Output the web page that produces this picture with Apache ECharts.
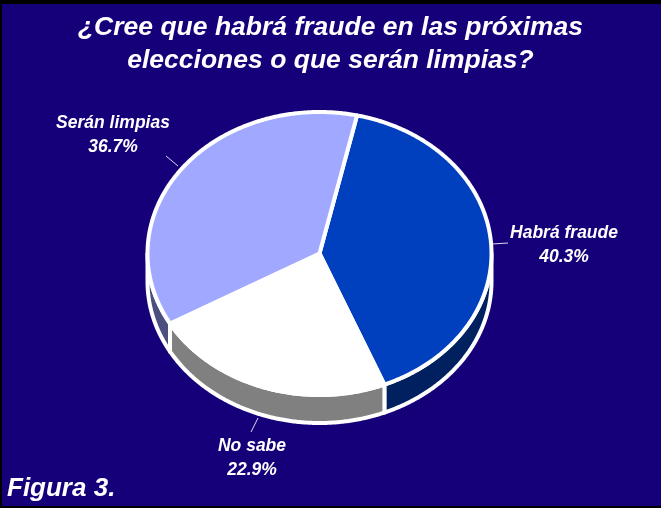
<!DOCTYPE html>
<html><head><meta charset="utf-8">
<style>
html,body{margin:0;padding:0;background:#000;width:661px;height:508px;overflow:hidden}
#frame{position:absolute;left:2px;top:4px;width:659px;height:502px;background:#16007a}
#c{position:absolute;left:0;top:0;width:661px;height:508px}
</style>
<script src="https://cdn.jsdelivr.net/npm/echarts@6/dist/echarts.min.js"></script>
</head><body><div id="frame"></div><div id="c"></div>
<script>
const categories = ['Habrá fraude', 'No sabe', 'Serán limpias'];
const values = [40.3, 22.9, 36.7];
const topColors = ['#0040bf', '#ffffff', '#a0a8ff'];
const sideColors = ['#002060', '#808080', '#4c5080'];
const titleLines = ['¿Cree que habrá fraude en las próximas', 'elecciones o que serán limpias?'];
const footnote = 'Figura 3.';

const FONT = '"Liberation Sans", Arial, sans-serif';
const PIE = {cx: 319.5, cy: 253.5, rx: 172, ry: 141.5, depth: 28, start: 12.6};
const LABELS = [
  {x: 564, y: 245, line: [492, 244, 508, 243]},
  {x: 252, y: 458, line: [258, 418, 251, 432]},
  {x: 113, y: 135, line: [166, 156, 178, 166]}
];
const total = values.reduce((a, b) => a + b, 0);
function pt(deg, dy) {
  const r = deg * Math.PI / 180;
  return [PIE.cx + PIE.rx * Math.sin(r), PIE.cy - PIE.ry * Math.cos(r) + (dy || 0)];
}
function arc(a0, a1, dy) {
  const pts = [], n = Math.max(2, Math.ceil(Math.abs(a1 - a0) / 0.5));
  for (let i = 0; i <= n; i++) pts.push(pt(a0 + (a1 - a0) * i / n, dy));
  return pts;
}
function renderSlice(params, api) {
  const i = params.dataIndex;
  let before = 0;
  for (let k = 0; k < i; k++) before += values[k];
  const a0 = PIE.start + before / total * 360;
  const a1 = a0 + api.value(0) / total * 360;
  const children = [];
  const s0 = Math.max(a0, 90), s1 = Math.min(a1, 270);
  if (s1 > s0) {
    children.push({
      type: 'polygon', z2: 1,
      shape: {points: arc(s0, s1, 0).concat(arc(s1, s0, PIE.depth))},
      style: {fill: sideColors[i], stroke: '#fff', lineWidth: 4, lineJoin: 'round'}
    });
  }
  children.push({
    type: 'polygon', z2: 2,
    shape: {points: [[PIE.cx, PIE.cy]].concat(arc(a0, a1, 0))},
    style: {fill: topColors[i], stroke: '#fff', lineWidth: 4, lineJoin: 'round'}
  });
  const L = LABELS[i];
  children.push({
    type: 'line', z2: 3,
    shape: {x1: L.line[0], y1: L.line[1], x2: L.line[2], y2: L.line[3]},
    style: {stroke: '#fff', lineWidth: 1, opacity: 0.85}
  });
  children.push({
    type: 'text', z2: 4, x: L.x, y: L.y,
    style: {
      text: categories[i] + '\n' + api.value(0).toFixed(1) + '%',
      fill: '#fff', align: 'center', verticalAlign: 'middle',
      font: 'italic bold 17.5px ' + FONT, lineHeight: 24
    }
  });
  return {type: 'group', children};
}
const chart = echarts.init(document.getElementById('c'), null, {renderer: 'canvas'});
chart.setOption({
  animation: false,
  backgroundColor: 'transparent',
  title: [
    {text: titleLines.join('\n'), left: 'center', top: 11, padding: 0,
     textStyle: {color: '#fff', fontFamily: FONT, fontStyle: 'italic', fontWeight: 'bold', fontSize: 26.5, lineHeight: 33}},
    {text: footnote, left: 7, top: 476, padding: 0,
     textStyle: {color: '#fff', fontFamily: FONT, fontStyle: 'italic', fontWeight: 'bold', fontSize: 26}}
  ],
  series: [{
    type: 'custom', coordinateSystem: 'none', silent: true,
    data: values.map(v => [v]),
    renderItem: renderSlice
  }]
});
</script></body></html>
